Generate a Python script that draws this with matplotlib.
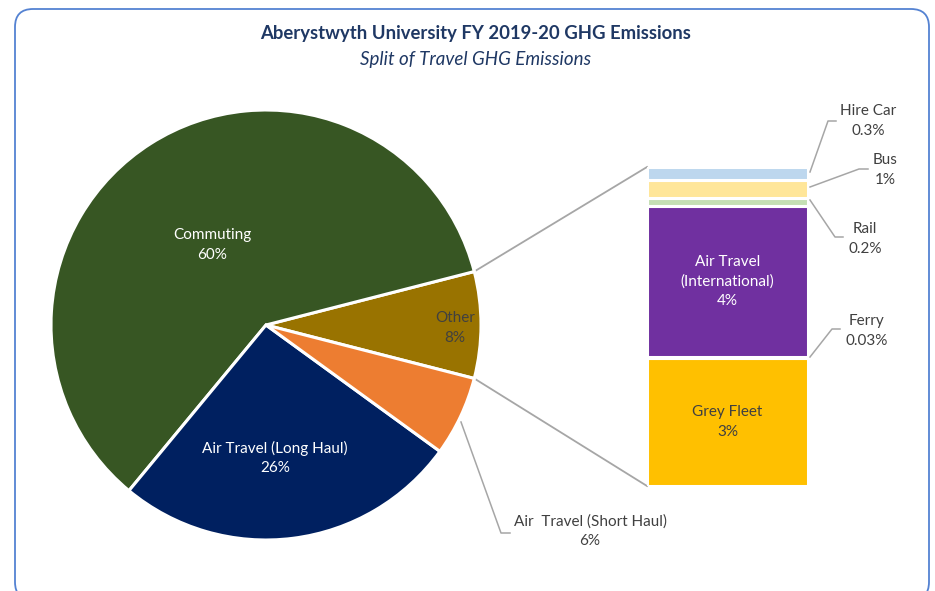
import matplotlib
matplotlib.use("Agg")
import matplotlib.pyplot as plt
from matplotlib.patches import FancyBboxPatch
import numpy as np

# ---------------- data ----------------
pie_labels = ["Other", "Commuting", "Air Travel (Long Haul)", "Air  Travel (Short Haul)"]
pie_values = [8, 60, 26, 6]
pie_text = ["8%", "60%", "26%", "6%"]
pie_colors = ["#997300", "#375623", "#002060", "#ED7D31"]

bar_labels = ["Grey Fleet", "Ferry", "Air Travel\n(International)", "Rail", "Bus", "Hire Car"]
bar_values = [3.2, 0.03, 3.8, 0.2, 0.45, 0.32]
bar_text = ["3%", "0.03%", "4%", "0.2%", "1%", "0.3%"]
bar_colors = ["#FFC000", "#F4B183", "#7030A0", "#C5E0B4", "#FFE699", "#BDD7EE"]

title = "Aberystwyth University FY 2019-20 GHG Emissions"
subtitle = "Split of Travel GHG Emissions"

# ---------------- layout ----------------
W, H = 935, 591
FONT = "Lato"
TITLE_C = "#1F3864"
DARK_T = "#404040"
LINE_C = "#A6A6A6"

fig = plt.figure(figsize=(W / 100, H / 100), dpi=100)
fig.patch.set_facecolor("white")

def Y(y):
    return H - y

ax = fig.add_axes([0, 0, 1, 1])
cx, cy, R = 266, Y(325), 215
start = -pie_values[0] / sum(pie_values) * 180.0
wedges, _ = ax.pie(pie_values, colors=pie_colors, startangle=start, counterclock=True,
                   center=(cx, cy), radius=R,
                   wedgeprops=dict(edgecolor="white", linewidth=2.2))
ax.set_xlim(0, W)
ax.set_ylim(0, H)
ax.set_aspect("equal")
ax.set_axis_off()

# bar axes
bx0, bx1, by_top, by_bot = 647, 808, 167, 486
axb = fig.add_axes([bx0 / W, Y(by_bot) / H, (bx1 - bx0) / W, (by_bot - by_top) / H])
axb.set_xlim(0, 1)
axb.set_ylim(0, sum(bar_values))
axb.set_axis_off()
bottoms = np.concatenate([[0], np.cumsum(bar_values)[:-1]])
axb.bar([0.5] * len(bar_values), bar_values, bottom=bottoms, width=1.0, color=bar_colors,
        edgecolor="white", linewidth=2.2)

# connector lines from pie "Other" slice edges to bar
a1 = np.deg2rad(-start)
a2 = np.deg2rad(start)
p_top = (cx + R * np.cos(a1), cy + R * np.sin(a1))
p_bot = (cx + R * np.cos(a2), cy + R * np.sin(a2))
ax.plot([p_top[0], bx0], [p_top[1], Y(by_top)], color=LINE_C, lw=1.3, zorder=0)
ax.plot([p_bot[0], bx0], [p_bot[1], Y(by_bot)], color=LINE_C, lw=1.3, zorder=0)

fs = 11
lsp = 1.5

# pie labels inside
inside_pos = {"Other": (455, 328), "Commuting": (212, 245), "Air Travel (Long Haul)": (275, 458)}
inside_col = {"Other": DARK_T, "Commuting": "white", "Air Travel (Long Haul)": "white"}
for lab, txt in zip(pie_labels, pie_text):
    if lab in inside_pos:
        x, y = inside_pos[lab]
        ax.text(x, Y(y), f"{lab}\n{txt}", ha="center", va="center", fontsize=fs,
                color=inside_col[lab], family=FONT, linespacing=lsp)

# short haul outside label with leader
ax.plot([461, 501, 510], [Y(422), Y(533), Y(533)], color=LINE_C, lw=1.1)
ax.text(590, Y(531), f"{pie_labels[3]}\n{pie_text[3]}", ha="center", va="center",
        fontsize=fs, color=DARK_T, family=FONT, linespacing=lsp)

# bar labels
inside_bar = {"Grey Fleet": DARK_T, "Air Travel\n(International)": "white"}
for lab, v, b, txt in zip(bar_labels, bar_values, bottoms, bar_text):
    if lab in inside_bar:
        axb.text(0.5, b + v / 2, f"{lab}\n{txt}", ha="center", va="center", fontsize=fs,
                 color=inside_bar[lab], family=FONT, linespacing=lsp)

outside = {
    "Hire Car": ((810, 172), (828, 121), (836, 121), (868, 121)),
    "Bus": ((810, 187), (859, 169), (868, 169), (885, 170)),
    "Rail": ((810, 200), (835, 237), (843, 237), (865, 239)),
    "Ferry": ((810, 357), (832, 329), (840, 329), (867, 331)),
}
for lab, txt in zip(bar_labels, bar_text):
    if lab in outside:
        p0, p1, p2, tp = outside[lab]
        ax.plot([p0[0], p1[0], p2[0]], [Y(p0[1]), Y(p1[1]), Y(p2[1])], color=LINE_C, lw=1.1)
        ax.text(tp[0], Y(tp[1]), f"{lab}\n{txt}", ha="center", va="center", fontsize=fs,
                color=DARK_T, family=FONT, linespacing=lsp)

# titles
ax.text(476, Y(34), title, ha="center", va="center", fontsize=13.3, fontweight="bold",
        color=TITLE_C, family=FONT)
ax.text(476, Y(59), subtitle, ha="center", va="center", fontsize=13.5, style="italic",
        color=TITLE_C, family=FONT)

# rounded border
border = FancyBboxPatch((15, Y(600)), 914, 591, boxstyle="round,pad=0,rounding_size=18",
                        fill=False, edgecolor="#5482D2", linewidth=1.3,
                        transform=ax.transData, clip_on=False)
ax.add_patch(border)

fig.savefig("out.png", dpi=100, facecolor="white")
